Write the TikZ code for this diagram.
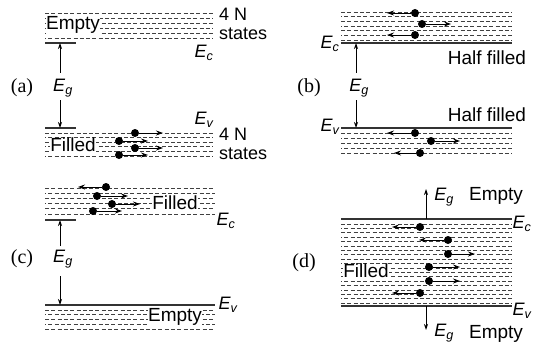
\documentclass[tikz,border=0pt]{standalone}
\usepackage{fontspec}
\setmainfont{Liberation Serif}
\setsansfont{Liberation Sans}
\usetikzlibrary{arrows.meta}

\newcommand{\lev}[1]{E\textsubscript{#1}}

\begin{document}
\begin{tikzpicture}[x=1pt, y=-1pt,
    dashline/.style={draw=black!75, line width=0.85pt, dash pattern=on 4pt off 2.3pt},
    solidline/.style={draw=black!80, line width=1.2pt},
    electron/.style={circle, fill=black, inner sep=0pt, minimum size=8pt},
    move/.style={-{Stealth[length=7pt,width=5pt]}, line width=0.9pt},
    gaparrow/.style={-{Stealth[length=6pt,width=4pt]}, line width=0.8pt},
    tag/.style={font=\sffamily\fontsize{19}{19}\selectfont, inner sep=0.5pt},
    filltag/.style={tag, fill=white},
    states/.style={font=\sffamily\fontsize{18}{19.5}\selectfont, inner sep=0pt, align=left, anchor=west},
    energy/.style={font=\sffamily\itshape\fontsize{18}{18}\selectfont, inner sep=0.5pt},
    panel/.style={font=\fontsize{20}{20}\selectfont}
]
\useasboundingbox (0,0) rectangle (534,342);

% (a) insulator
\foreach \i [evaluate=\i as \ph using {3*mod(\i,2)}] in {0,...,5}
    \draw[dashline, dash phase=\ph pt] (45,{13+5*\i}) -- (213,{13+5*\i});
\foreach \i [evaluate=\i as \ph using {3*mod(\i,2)}] in {0,...,5}
    \draw[dashline, dash phase=\ph pt] (45,{133+4.6*\i}) -- (213,{133+4.6*\i});
\draw[solidline] (45,43) -- (76,43);
\draw[solidline] (45,128) -- (76,128);
\node[filltag] (a_empty) at (73,25) {Empty};
\node[filltag] (a_filled) at (73,145) {Filled};
\node[states] (a_states1) at (219,24) {4 N\\states};
\node[states] (a_states2) at (219,144) {4 N\\states};
\node[energy] (a_ec) at (204,53) {\lev{c}};
\node[energy] (a_ev) at (204,120) {\lev{v}};
\node[panel] (a_lbl) at (22,88) {(a)};
\node[energy] (a_eg) at (63,88) {\lev{g}};
\coordinate (a_top) at (60,43);
\coordinate (a_bot) at (60,128);
\coordinate (a_g1) at (60,73);
\coordinate (a_g2) at (60,100);
\draw[gaparrow] (a_g1) -- (a_top);
\draw[gaparrow] (a_g2) -- (a_bot);
\foreach \ex/\ey/\tx [count=\k] in {135/133/163, 119/141/148, 135/148/163, 119/155/148} {
    \node[electron] (ae\k) at (\ex,\ey) {};
    \coordinate (at\k) at (\tx,\ey);
    \draw[move] (ae\k) -- (at\k);
}

% (b) half filled
\foreach \i [evaluate=\i as \ph using {3*mod(\i,2)}] in {0,...,6}
    \draw[dashline, dash phase=\ph pt] (341,{12+4.67*\i}) -- (512,{12+4.67*\i});
\foreach \i [evaluate=\i as \ph using {3*mod(\i,2)}] in {0,...,4}
    \draw[dashline, dash phase=\ph pt] (341,{133+5*\i}) -- (512,{133+5*\i});
\draw[solidline] (341,43) -- (512,43);
\draw[solidline] (341,128) -- (512,128);
\node[energy, anchor=east] (b_ec) at (340,44) {\lev{c}};
\node[energy, anchor=east] (b_ev) at (340,127) {\lev{v}};
\node[tag] (b_half1) at (487,58) {Half filled};
\node[tag] (b_half2) at (487,115) {Half filled};
\node[panel] (b_lbl) at (309,88) {(b)};
\node[energy] (b_eg) at (359,88) {\lev{g}};
\coordinate (b_top) at (356,43);
\coordinate (b_bot) at (356,128);
\coordinate (b_g1) at (356,73);
\coordinate (b_g2) at (356,100);
\draw[gaparrow] (b_g1) -- (b_top);
\draw[gaparrow] (b_g2) -- (b_bot);
\foreach \ex/\ey/\tx [count=\k] in {415/13/387, 422/24/451, 415/35/387,
                                    415/133/387, 431/141/460, 420/153/394} {
    \node[electron] (be\k) at (\ex,\ey) {};
    \coordinate (bt\k) at (\tx,\ey);
    \draw[move] (be\k) -- (bt\k);
}

% (c) inverted
\foreach \i [evaluate=\i as \ph using {3*mod(\i,2)}] in {0,...,5}
    \draw[dashline, dash phase=\ph pt] (45,{188+5.2*\i}) -- (215,{188+5.2*\i});
\foreach \i [evaluate=\i as \ph using {3*mod(\i,2)}] in {0,...,4}
    \draw[dashline, dash phase=\ph pt] (45,{310+4.75*\i}) -- (215,{310+4.75*\i});
\draw[solidline] (45,220) -- (76,220);
\draw[solidline] (45,305) -- (215,305);
\node[filltag] (c_filled) at (175,203) {Filled};
\node[filltag] (c_empty) at (175,317) {Empty};
\node[energy] (c_ec) at (226,221) {\lev{c}};
\node[energy] (c_ev) at (228,305) {\lev{v}};
\node[panel] (c_lbl) at (22,259) {(c)};
\node[energy] (c_eg) at (63,259) {\lev{g}};
\coordinate (c_top) at (60,220);
\coordinate (c_bot) at (60,305);
\coordinate (c_g1) at (60,246);
\coordinate (c_g2) at (60,276);
\draw[gaparrow] (c_g1) -- (c_top);
\draw[gaparrow] (c_g2) -- (c_bot);
\foreach \ex/\ey/\tx [count=\k] in {106/187/78, 97/196/128, 112/204/140, 93/211/122} {
    \node[electron] (ce\k) at (\ex,\ey) {};
    \coordinate (ct\k) at (\tx,\ey);
    \draw[move] (ce\k) -- (ct\k);
}

% (d) overlapping bands
\foreach \i [evaluate=\i as \ph using {3*mod(\i,2)}] in {0,...,18}
    \draw[dashline, dash phase=\ph pt] (341,{224+4.4*\i}) -- (512,{224+4.4*\i});
\draw[solidline] (341,219) -- (512,219);
\draw[solidline] (341,306) -- (512,306);
\node[filltag] (d_filled) at (366,271) {Filled};
\node[energy] (d_ec) at (522,224) {\lev{c}};
\node[energy] (d_ev) at (522,311) {\lev{v}};
\node[energy] (d_eg1) at (444,197) {\lev{g}};
\node[energy] (d_eg2) at (444,333) {\lev{g}};
\node[tag] (d_empty1) at (496,196) {Empty};
\node[tag] (d_empty2) at (496,334) {Empty};
\node[panel] (d_lbl) at (304,263) {(d)};
\coordinate (d_top) at (426,219);
\coordinate (d_bot) at (426,306);
\coordinate (d_up) at (426,189);
\coordinate (d_down) at (426,330);
\draw[gaparrow] (d_top) -- (d_up);
\draw[gaparrow] (d_bot) -- (d_down);
\foreach \ex/\ey/\tx [count=\k] in {420/227/392, 448/240/419, 448/254/475,
                                    429/267/460, 429/281/460, 420/293/392} {
    \node[electron] (de\k) at (\ex,\ey) {};
    \coordinate (dt\k) at (\tx,\ey);
    \draw[move] (de\k) -- (dt\k);
}
\end{tikzpicture}
\end{document}
